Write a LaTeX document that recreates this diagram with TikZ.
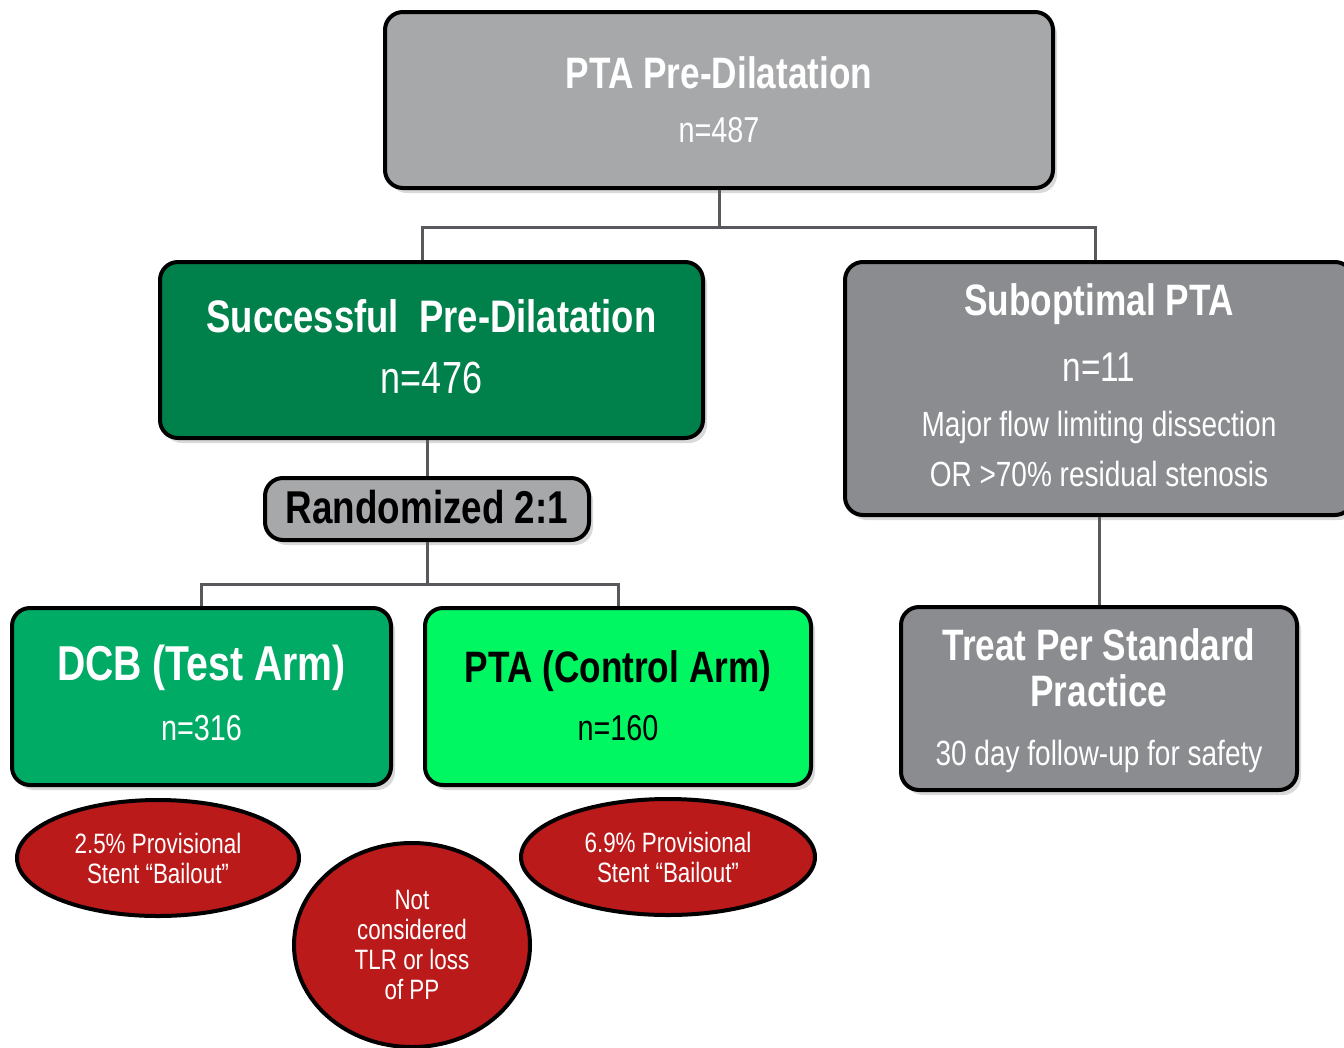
\documentclass[tikz,border=0pt]{standalone}
\usepackage{fontspec}
\setmainfont{Liberation Sans}[FakeStretch=0.8]
\usetikzlibrary{shapes.geometric,shadows}

\definecolor{topgray}{RGB}{167,168,170}
\definecolor{midgray}{RGB}{139,140,144}
\definecolor{linkgray}{RGB}{88,89,92}
\definecolor{darkgreen}{RGB}{0,128,74}
\definecolor{testgreen}{RGB}{0,171,102}
\definecolor{ctrlgreen}{RGB}{0,247,98}
\definecolor{stentred}{RGB}{187,26,27}

\newcommand{\fsz}[1]{\fontsize{#1}{#1}\selectfont}

\tikzset{
  box/.style={draw=black, line width=4pt, rounded corners=18pt, inner sep=0pt,
    drop shadow={opacity=0.3, shadow xshift=4pt, shadow yshift=-5pt}},
  link/.style={draw=linkgray, line width=3pt},
  lbl/.style={inner sep=0pt, anchor=base, text=white},
  hd/.style={lbl, font=\fsz{44}\bfseries},
  cnt/.style={lbl, font=\fsz{36}},
  note/.style={lbl, font=\fsz{35}},
  oval/.style={ellipse, draw=black, line width=4pt, fill=stentred, text=white,
    align=center, inner sep=0pt, font=\fontsize{28}{30}\selectfont}
}

\begin{document}
\begin{tikzpicture}[x=1pt,y=-1pt]
\useasboundingbox (0,0) rectangle (1344,1047);

% boxes
\node[box, fill=topgray, minimum width=668pt, minimum height=176pt] (top) at (719,100) {};
\node[box, fill=darkgreen, minimum width=543pt, minimum height=176pt] (succ) at (431.5,350) {};
\node[box, fill=midgray, minimum width=508pt, minimum height=253pt] (subopt) at (1099,388.5) {};
\node[box, fill=topgray, minimum width=324pt, minimum height=62pt] (rand) at (427,509) {};
\node[box, fill=testgreen, minimum width=379pt, minimum height=177pt] (dcb) at (201.5,696.5) {};
\node[box, fill=ctrlgreen, minimum width=386pt, minimum height=177pt] (ctrl) at (618,696.5) {};
\node[box, fill=midgray, minimum width=396pt, minimum height=183pt] (treat) at (1099,698.5) {};

% connectors
\draw[link] (top.south) -- ++(0,37) coordinate (fork1);
\draw[link] ([xshift=-9pt]succ.north) |- (fork1) -| ([xshift=-4pt]subopt.north);
\draw[link] (rand.north |- succ.south) -- (rand.north);
\draw[link] (rand.south) -- ++(0,42) coordinate (fork2);
\draw[link] (dcb.north) |- (fork2) -| (ctrl.north);
\draw[link] (subopt.south) -- (treat.north);

% texts
\node[hd] (topT) at (719,88) {PTA Pre-Dilatation};
\node[cnt] (topN) at (719,142) {n=487};

\node[hd, font=\fsz{45.6}\bfseries] (succT) at (431.5,332) {Successful\ \ Pre-Dilatation};
\node[cnt, font=\fsz{45}] (succN) at (431.5,393) {n=476};

\node[hd] (suboptT) at (1099,315) {Suboptimal PTA};
\node[cnt, font=\fsz{41.6}] (suboptN) at (1099,381.5) {n=11};
\node[note] (suboptA) at (1099,436.5) {Major flow limiting dissection};
\node[note] (suboptB) at (1099,486.5) {OR >70\% residual stenosis};

\node[hd, text=black, font=\fsz{46}\bfseries] (randT) at (427,523) {Randomized 2:1};

\node[hd, font=\fsz{49}\bfseries] (dcbT) at (201.5,680) {DCB (Test Arm)};
\node[cnt] (dcbN) at (201.5,740) {n=316};

\node[hd, text=black, font=\fsz{44}\bfseries] (ctrlT) at (618,682) {PTA (Control Arm)};
\node[cnt, text=black] (ctrlN) at (618,740) {n=160};

\node[hd] (treatT) at (1099,660) {Treat Per Standard};
\node[hd] (treatP) at (1099,706.5) {Practice};
\node[note] (treatN) at (1099,765) {30 day follow-up for safety};

% bailout ovals
\node[oval, minimum width=282pt, minimum height=116pt] (bail1) at (158,858)
  {2.5\% Provisional\\Stent “Bailout”};
\node[oval, minimum width=294pt, minimum height=116pt] (bail2) at (668,857)
  {6.9\% Provisional\\Stent “Bailout”};
\node[oval, minimum width=236pt, minimum height=204pt] (tlr) at (412,945)
  {Not\\considered\\TLR or loss\\of PP};
\end{tikzpicture}
\end{document}
